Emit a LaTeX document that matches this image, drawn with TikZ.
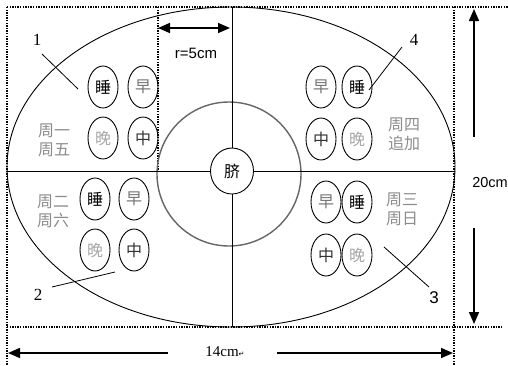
\documentclass[tikz,border=0pt]{standalone}
\usepackage{fontspec}
\setmainfont{Liberation Serif}
\setsansfont{Liberation Sans}
\newfontfamily\cjk{Noto Sans CJK SC}
\newfontfamily\dejavu{DejaVu Sans}
\usetikzlibrary{shapes.geometric,arrows.meta}
\begin{document}
\begin{tikzpicture}[x=1pt,y=-1pt,
  oval/.style={draw,ellipse,line width=0.9pt,minimum width=30pt,minimum height=42pt,inner sep=0pt,font=\cjk\fontsize{16}{16}\selectfont},
  sleep/.style={oval,text=black},
  morning/.style={oval,text=black!55},
  noon/.style={oval,text=black!80},
  evening/.style={oval,text=black!35},
  day/.style={font=\cjk\fontsize{16}{16}\selectfont,text=black!45,align=center,inner sep=0pt},
  num/.style={font=\fontsize{17}{17}\selectfont,inner sep=0pt},
  dotline/.style={line width=1.6pt,dash pattern=on 1.3pt off 1.3pt},
  dim/.style={line width=1.6pt,-{Triangle[length=12pt,width=10pt]}},
  lbl/.style={line width=0.8pt}
]
\useasboundingbox (0,0) rectangle (508,365);
% dotted frame
\draw[dotline] (7,7) -- (508,7);
\draw[dotline] (7,7) -- (7,365);
\draw[dotline] (454,7) -- (454,365);
\draw[dotline] (7,327) -- (502,327);
\draw[dotline] (158,7) -- (158,171);
% big ellipse
\draw[line width=0.9pt] (231,167) ellipse [x radius=224, y radius=160];
% inner circle
\draw[line width=1.4pt,black!60] (229,174) circle [radius=72];
% navel
\node[draw,ellipse,line width=0.9pt,minimum width=43pt,minimum height=46pt,inner sep=0pt,font=\cjk\fontsize{16}{16}\selectfont] (qi) at (232,171) {脐};
\coordinate (top) at (232,7);
\coordinate (bot) at (232,327);
\coordinate (lft) at (7,171);
\coordinate (rgt) at (454,171);
\draw[line width=0.9pt] (top) -- (qi.north);
\draw[line width=0.9pt] (qi.south) -- (bot);
\draw[line width=0.9pt] (lft) -- (qi.west);
\draw[line width=0.9pt] (qi.east) -- (rgt);
% quadrant 1
\node[sleep] (s1) at (103,87) {睡};
\node[morning] (m1) at (143,87) {早};
\node[evening] (e1) at (103,138) {晚};
\node[noon] (n1) at (143,138) {中};
\node[day] (d1) at (54,140) {周一\\[3pt]周五};
% quadrant 4
\node[morning] (m4) at (321,87) {早};
\node[sleep] (s4) at (357,87) {睡};
\node[noon] (n4) at (321,139) {中};
\node[evening] (e4) at (357,139) {晚};
\node[day] (d4) at (404,134) {周四\\[3pt]追加};
% quadrant 2
\node[sleep] (s2) at (95,199) {睡};
\node[morning] (m2) at (134,199) {早};
\node[evening] (e2) at (95,250) {晚};
\node[noon] (n2) at (134,250) {中};
\node[day] (d2) at (53,211) {周二\\[3pt]周六};
% quadrant 3
\node[morning] (m3) at (326,202) {早};
\node[sleep] (s3) at (357,202) {睡};
\node[noon] (n3) at (326,255) {中};
\node[evening] (e3) at (357,255) {晚};
\node[day] (d3) at (402,209) {周三\\[3pt]周日};
% labels
\node[num] (l1) at (37,40) {1};
\node[num] (l4) at (414,40) {4};
\node[num] (l2) at (38,295) {2};
\node[num,font=\sffamily\fontsize{17}{17}\selectfont] (l3) at (434,298) {3};
\coordinate (l1a) at (42,54); \coordinate (l1b) at (78,89);
\coordinate (l4a) at (402,47); \coordinate (l4b) at (369,90);
\coordinate (l2a) at (52,287); \coordinate (l2b) at (115,272);
\coordinate (l3a) at (384,247); \coordinate (l3b) at (429,287);
\draw[lbl] (l1a) -- (l1b);
\draw[lbl] (l4a) -- (l4b);
\draw[lbl] (l2a) -- (l2b);
\draw[lbl] (l3a) -- (l3b);
% r = 5cm
\coordinate (ra) at (158,28); \coordinate (rb) at (230,28);
\draw[line width=1.6pt,{Triangle[length=12pt,width=10pt]}-{Triangle[length=12pt,width=10pt]}] (ra) -- (rb);
\node[font=\sffamily\fontsize{15}{15}\selectfont,inner sep=0pt] (rl) at (196,53) {r=5cm};
% 20cm
\node[font=\sffamily\fontsize{14.5}{14.5}\selectfont,inner sep=0pt] (h) at (490,183) {20cm};
\coordinate (hu1) at (474,137); \coordinate (hu2) at (474,9);
\coordinate (hd1) at (474,228); \coordinate (hd2) at (474,324);
\draw[dim] (hu1) -- (hu2);
\draw[dim] (hd1) -- (hd2);
% 14cm
\node[font=\fontsize{15}{15}\selectfont,inner sep=0pt] (w) at (225,352) {14cm{\dejavu\fontsize{7}{7}\selectfont ↵}};
\coordinate (wl1) at (168,353); \coordinate (wl2) at (8,353);
\coordinate (wr1) at (277,353); \coordinate (wr2) at (453,353);
\draw[dim] (wl1) -- (wl2);
\draw[dim] (wr1) -- (wr2);
\end{tikzpicture}
\end{document}
